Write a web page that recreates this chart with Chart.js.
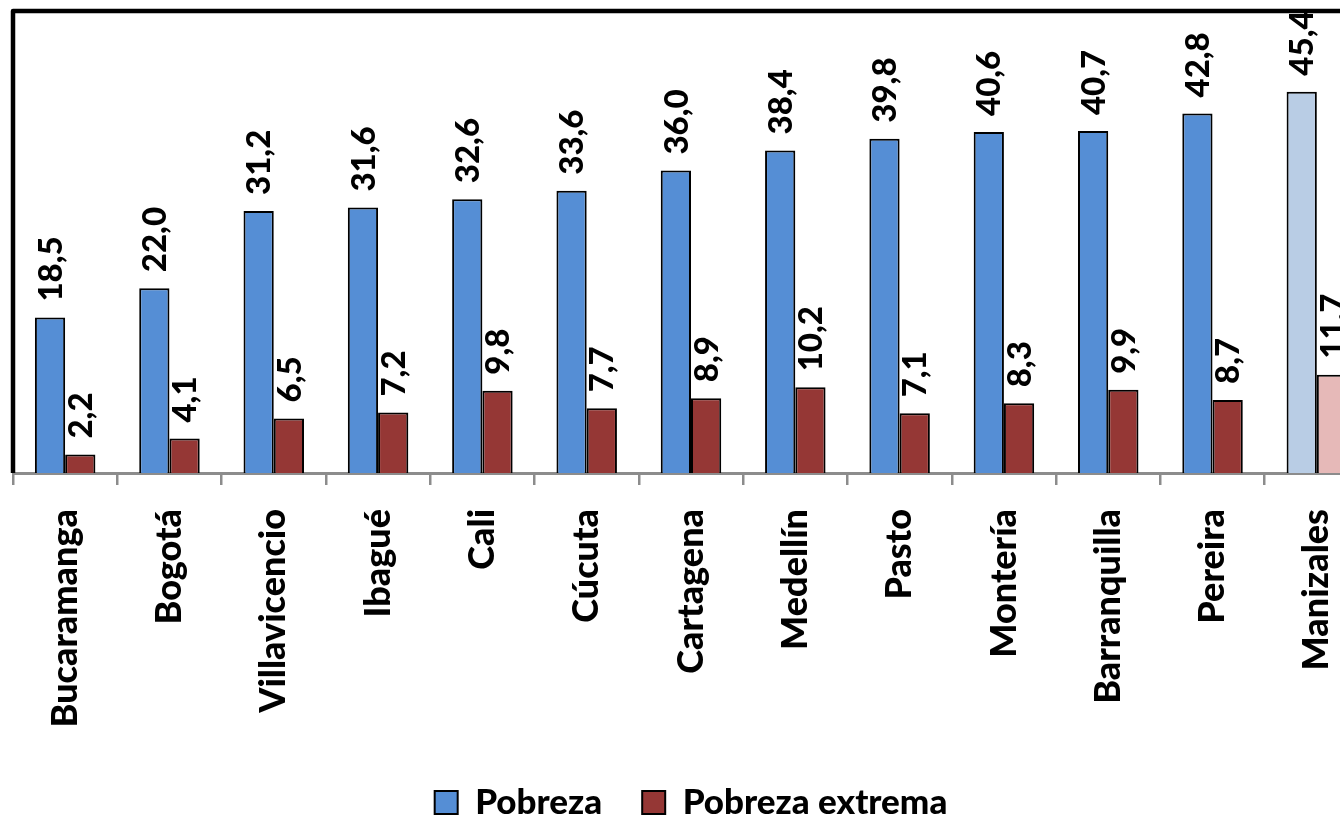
<!DOCTYPE html>
<html>
<head>
<meta charset="utf-8">
<script src="https://cdn.jsdelivr.net/npm/chart.js@4/dist/chart.umd.min.js"></script>
<style>
  html, body { margin: 0; padding: 0; background: #fff; overflow: hidden; }
  #wrap { position: absolute; left: 0; top: 0; width: 1390px; height: 830px; }
</style>
</head>
<body>
<div id="wrap"><canvas id="chart" width="1390" height="830"></canvas></div>
<script>
const cities = ["Bucaramanga", "Bogotá", "Villavicencio", "Ibagué", "Cali", "Cúcuta", "Cartagena",
    "Medellín", "Pasto", "Montería", "Barranquilla", "Pereira", "Manizales"];
const pobreza = [18.5, 22.0, 31.2, 31.6, 32.6, 33.6, 36.0, 38.4, 39.8, 40.6, 40.7, 42.8, 45.4];
const pobrezaExtrema = [2.2, 4.1, 6.5, 7.2, 9.8, 7.7, 8.9, 10.2, 7.1, 8.3, 9.9, 8.7, 11.7];
const highlightCity = "Manizales";

const FONT = "Lato, 'DejaVu Sans', sans-serif";
const WEIGHT = "900";

const pick = (normal, light) => (ctx) =>
    cities[ctx.dataIndex] === highlightCity ? light : normal;

// value labels, rotated, above each bar
const barLabels = {
    id: "barLabels",
    afterDatasetsDraw(chart) {
        const ctx = chart.ctx;
        ctx.save();
        ctx.fillStyle = "#000";
        ctx.font = `${WEIGHT} 33px ${FONT}`;
        ctx.textAlign = "left";
        ctx.textBaseline = "middle";
        chart.data.datasets.forEach((ds, i) => {
            chart.getDatasetMeta(i).data.forEach((bar, j) => {
                const txt = ds.data[j].toFixed(1).replace(".", ",");
                ctx.save();
                ctx.translate(bar.x + 1, bar.y - 16);
                ctx.rotate(-Math.PI / 2);
                ctx.fillText(txt, 0, 0);
                ctx.restore();
            });
        });
        ctx.restore();
    }
};

// black frame on left, top and right of the plot area
const plotFrame = {
    id: "plotFrame",
    afterDraw(chart) {
        const {left, top, right, bottom} = chart.chartArea;
        const ctx = chart.ctx;
        ctx.save();
        ctx.strokeStyle = "#000";
        ctx.lineWidth = 4.5;
        ctx.lineJoin = "round";
        ctx.beginPath();
        ctx.moveTo(left, bottom);
        ctx.lineTo(left, top);
        ctx.lineTo(right, top);
        ctx.lineTo(right, bottom);
        ctx.stroke();
        ctx.restore();
    }
};

new Chart(document.getElementById("chart"), {
    type: "bar",
    data: {
        labels: cities,
        datasets: [{
            label: "Pobreza",
            data: pobreza,
            backgroundColor: pick("#558ED5", "#B9CDE5"),
            borderColor: "#000",
            borderWidth: 2,
            categoryPercentage: 0.58,
            barPercentage: 1.0
        }, {
            label: "Pobreza extrema",
            data: pobrezaExtrema,
            backgroundColor: pick("#953735", "#E6B9B8"),
            borderColor: "#000",
            borderWidth: 2,
            categoryPercentage: 0.58,
            barPercentage: 1.0
        }]
    },
    options: {
        responsive: false,
        animation: false,
        devicePixelRatio: 1,
        layout: {
            padding: { left: 13, top: 11, right: 21, bottom: 0 }
        },
        scales: {
            x: {
                offset: true,
                border: { display: true, color: "#8c8c8c", width: 3 },
                grid: {
                    offset: true,
                    drawOnChartArea: false,
                    drawTicks: true,
                    tickLength: 12,
                    tickColor: "#8c8c8c",
                    lineWidth: 2.5
                },
                ticks: {
                    minRotation: 90,
                    maxRotation: 90,
                    autoSkip: false,
                    padding: 24,
                    color: "#000",
                    font: { family: FONT, size: 36, weight: WEIGHT }
                },
                afterFit(scale) {
                    scale.height = 272;
                    scale.paddingLeft = 0;
                    scale.paddingRight = 0;
                }
            },
            y: {
                display: false,
                min: 0,
                max: 55
            }
        },
        plugins: {
            legend: {
                position: "bottom",
                labels: {
                    color: "#000",
                    boxWidth: 23,
                    boxHeight: 23,
                    padding: 40,
                    font: { family: FONT, size: 35, weight: WEIGHT }
                }
            },
            tooltip: { enabled: false }
        }
    },
    plugins: [barLabels, plotFrame]
});
</script>
</body>
</html>
